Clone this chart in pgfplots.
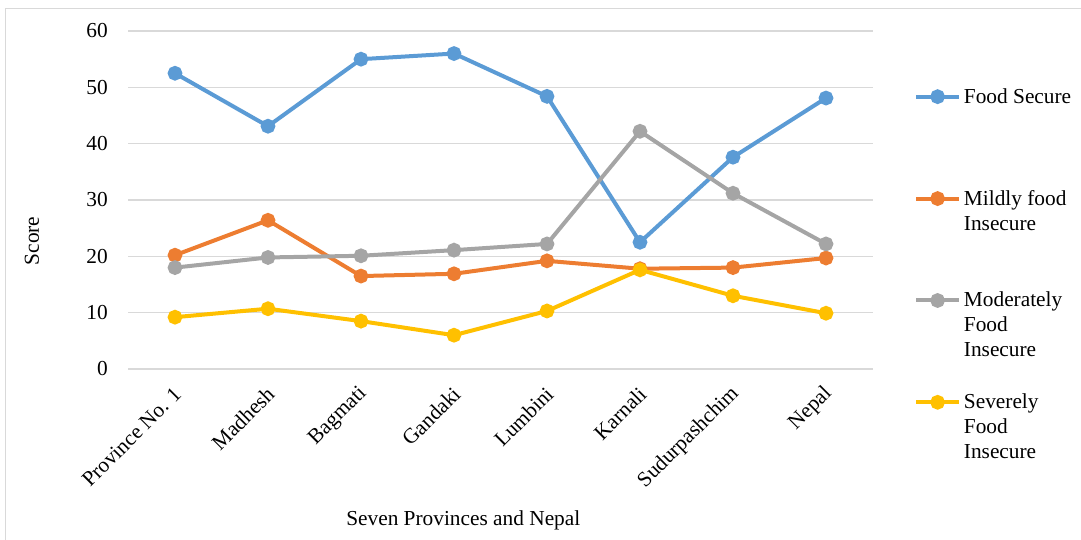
\documentclass[border=0pt]{standalone}
\usepackage{fontspec}
\setmainfont{Liberation Serif}
\usepackage{pgfplots}
\pgfplotsset{compat=1.18}

\definecolor{cblue}{HTML}{5B9BD5}
\definecolor{corange}{HTML}{ED7D31}
\definecolor{cgray}{HTML}{A5A5A5}
\definecolor{cyellow}{HTML}{FFC000}
\definecolor{cgrid}{HTML}{D9D9D9}

% one legend text, lines hanging below the first one
\newcommand\lgd[1]{\parbox[t]{90pt}{\raggedright #1}}

\begin{document}
\begin{tikzpicture}
\useasboundingbox (-96.375pt,-127.5pt) rectangle (714.375pt,276.75pt);
\draw[cgrid, line width=0.75pt] (-92.6pt,270pt) rectangle (730pt,-140pt);
\begin{axis}[
    scale only axis,
    width=558pt, height=253.5pt,
    xmin=-0.5, xmax=7.5,
    ymin=0, ymax=60,
    ytick={0,10,...,60},
    xtick={0,...,7},
    xticklabels={Province No. 1,Madhesh,Bagmati,Gandaki,Lumbini,Karnali,Sudurpashchim,Nepal},
    axis line style={draw=none},
    major tick length=0pt,
    ymajorgrids=true,
    grid style={cgrid, line width=0.9pt},
    font=\fontsize{16}{18.75}\selectfont,
    /pgf/number format/assume math mode=true,
    yticklabel style={xshift=-12pt},
    xticklabel style={rotate=45, anchor=east, xshift=-6.6pt, yshift=-12.9pt},
    ylabel={Score},
    ylabel style={at={(axis description cs:-0.1297,0.379)}, anchor=center},
    xlabel={Seven Provinces and Nepal},
    xlabel style={at={(axis description cs:0.45,0)}, anchor=center, yshift=-113.25pt},
    every axis plot/.append style={line width=3pt, mark=*, mark size=4pt},
    legend image code/.code={%
        \draw[#1, mark repeat=2, mark phase=2] plot coordinates {(0pt,0pt) (16pt,0pt) (32pt,0pt)};},
    legend cell align=left,
    legend style={draw=none, fill=none, at={(1.0558,0.8314)}, anchor=north west,
        inner sep=0pt, row sep=63.75pt, column sep=2.25pt, nodes={inner sep=0pt},
        font=\fontsize{16}{18.75}\selectfont},
]
\addplot[cblue] coordinates {
    (0,52.5) (1,43.1) (2,55.0) (3,56.0) (4,48.4) (5,22.5) (6,37.6) (7,48.1)
};
\addlegendentry{\lgd{Food Secure}}
\addplot[corange] coordinates {
    (0,20.2) (1,26.4) (2,16.5) (3,16.9) (4,19.2) (5,17.8) (6,18.0) (7,19.7)
};
\addlegendentry{\lgd{Mildly food\\Insecure}}
\addplot[cgray] coordinates {
    (0,18.0) (1,19.8) (2,20.1) (3,21.1) (4,22.2) (5,42.2) (6,31.2) (7,22.2)
};
\addlegendentry{\lgd{Moderately\\Food\\Insecure}}
\addplot[cyellow] coordinates {
    (0,9.2) (1,10.7) (2,8.5) (3,6.0) (4,10.3) (5,17.6) (6,13.0) (7,9.9)
};
\addlegendentry{\lgd{Severely\\Food\\Insecure}}
\end{axis}
\end{tikzpicture}
\end{document}
